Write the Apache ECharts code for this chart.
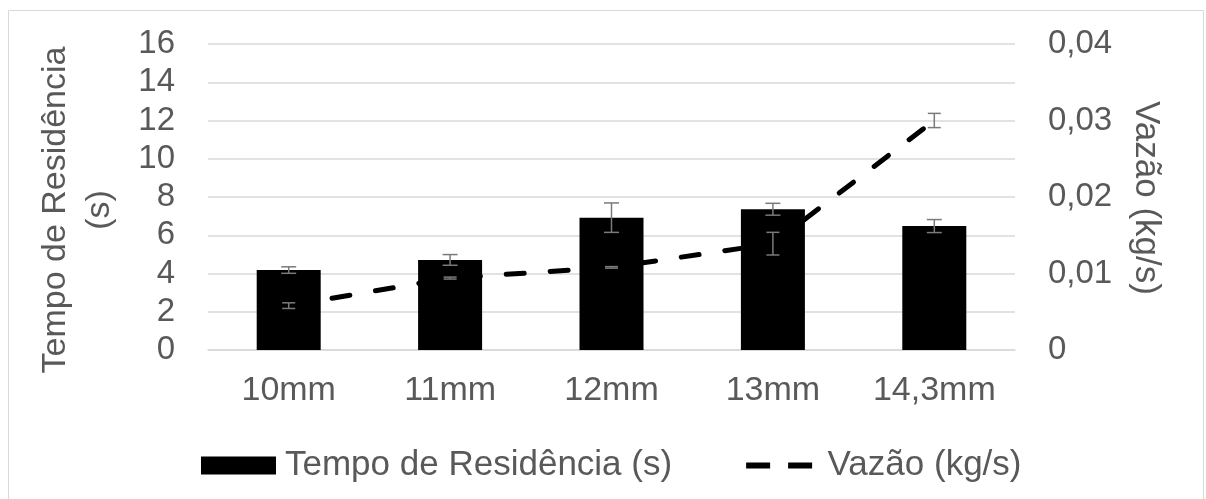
<!DOCTYPE html>
<html>
<head>
<meta charset="utf-8">
<script src="https://cdn.jsdelivr.net/npm/echarts@6/dist/echarts.min.js"></script>
<style>
html,body{margin:0;padding:0;background:#fff;}
#c{width:1206px;height:499px;}
</style>
</head>
<body>
<div id="c"></div>
<script>
const categories = ['10mm', '11mm', '12mm', '13mm', '14,3mm'];
const tempo = [4.18, 4.71, 6.92, 7.36, 6.48];
const tempoErr = [0.17, 0.28, 0.77, 0.31, 0.34];
const vazao = [0.0058, 0.0094, 0.0108, 0.0139, 0.0300];
const vazaoErr = [0.00037, 0.00013, 0.0001, 0.00148, 0.00093];
const leftTicks = { min: 0, max: 16, interval: 2 };
const rightTicks = { min: 0, max: 0.04, interval: 0.01 };

const FONT = 'Liberation Sans';
const TXT = '#595959';
const GRID = '#d9d9d9';

function errRender(capHalf, color) {
  return function (params, api) {
    const x = api.value(0), y = api.value(1), e = api.value(2);
    const top = api.coord([x, y + e]);
    const bot = api.coord([x, y - e]);
    const style = { stroke: color, lineWidth: 1.5 };
    return {
      type: 'group',
      children: [
        { type: 'line', shape: { x1: top[0], y1: top[1], x2: bot[0], y2: bot[1] }, style },
        { type: 'line', shape: { x1: top[0] - capHalf, y1: top[1], x2: top[0] + capHalf, y2: top[1] }, style },
        { type: 'line', shape: { x1: bot[0] - capHalf, y1: bot[1], x2: bot[0] + capHalf, y2: bot[1] }, style }
      ]
    };
  };
}

const dashIcon = 'path://M0,0L0.01,0L0,0.01Z M0,6L24,6L24,12L0,12Z M42,6L66,6L66,12L42,12Z M70,18L69.99,18L70,17.99Z';

const chart = echarts.init(document.getElementById('c'), null, { renderer: 'canvas' });
chart.setOption({
  animation: false,
  backgroundColor: '#fff',
  textStyle: { fontFamily: FONT },
  grid: { left: 208, right: 191, top: 44, bottom: 149, containLabel: false },
  legend: {
    left: 196, top: 443,
    itemWidth: 75, itemHeight: 18, itemGap: 74,
    textStyle: { fontFamily: FONT, fontSize: 35, color: TXT, padding: [0, 0, 0, 4] },
    data: [
      { name: 'Tempo de Residência (s)', icon: 'rect' },
      { name: 'Vazão (kg/s)', icon: dashIcon, itemStyle: { color: '#000' } }
    ]
  },
  xAxis: {
    type: 'category',
    data: categories,
    axisLine: { lineStyle: { color: GRID, width: 1.5 } },
    axisTick: { show: false },
    axisLabel: { fontFamily: FONT, fontSize: 34, color: TXT, margin: 24 }
  },
  yAxis: [
    {
      type: 'value', min: leftTicks.min, max: leftTicks.max, interval: leftTicks.interval,
      axisLine: { show: false }, axisTick: { show: false },
      splitLine: { lineStyle: { color: GRID, width: 1.5 } },
      axisLabel: { fontFamily: FONT, fontSize: 33, color: TXT, margin: 33 }
    },
    {
      type: 'value', min: rightTicks.min, max: rightTicks.max, interval: rightTicks.interval,
      axisLine: { show: false }, axisTick: { show: false },
      splitLine: { show: false },
      axisLabel: {
        fontFamily: FONT, fontSize: 33, color: TXT, margin: 33,
        formatter: v => v === 0 ? '0' : v.toFixed(2).replace('.', ',')
      }
    }
  ],
  graphic: [
    { type: 'rect', shape: { x: 8.5, y: 10.5, width: 1195, height: 500 }, style: { fill: 'none', stroke: GRID, lineWidth: 1 }, silent: true },
    { type: 'text', x: 78, y: 210, rotation: Math.PI / 2,
      style: { text: 'Tempo de Residência\n(s)', fontFamily: FONT, fontSize: 34, fill: TXT, align: 'center', verticalAlign: 'middle', lineHeight: 44 } },
    { type: 'text', x: 1146, y: 198, rotation: -Math.PI / 2,
      style: { text: 'Vazão (kg/s)', fontFamily: FONT, fontSize: 35, fill: TXT, align: 'center', verticalAlign: 'middle' } }
  ],
  series: [
    {
      name: 'Vazão (kg/s)', type: 'line', yAxisIndex: 1, data: vazao,
      showSymbol: false, symbol: 'none', z: 1,
      itemStyle: { color: '#000' },
      lineStyle: { color: '#000', width: 5, type: [18, 26], cap: 'round' }
    },
    {
      name: 'Tempo de Residência (s)', type: 'bar', yAxisIndex: 0, data: tempo,
      barWidth: 64, z: 2,
      itemStyle: { color: '#000' }
    },
    {
      type: 'custom', yAxisIndex: 0, z: 5,
      renderItem: errRender(7.5, '#7a7a7a'),
      data: categories.map((c, i) => [i, tempo[i], tempoErr[i]])
    },
    {
      type: 'custom', yAxisIndex: 1, z: 5,
      renderItem: errRender(6.5, '#7a7a7a'),
      data: categories.map((c, i) => [i, vazao[i], vazaoErr[i]])
    }
  ]
});
</script>
</body>
</html>
